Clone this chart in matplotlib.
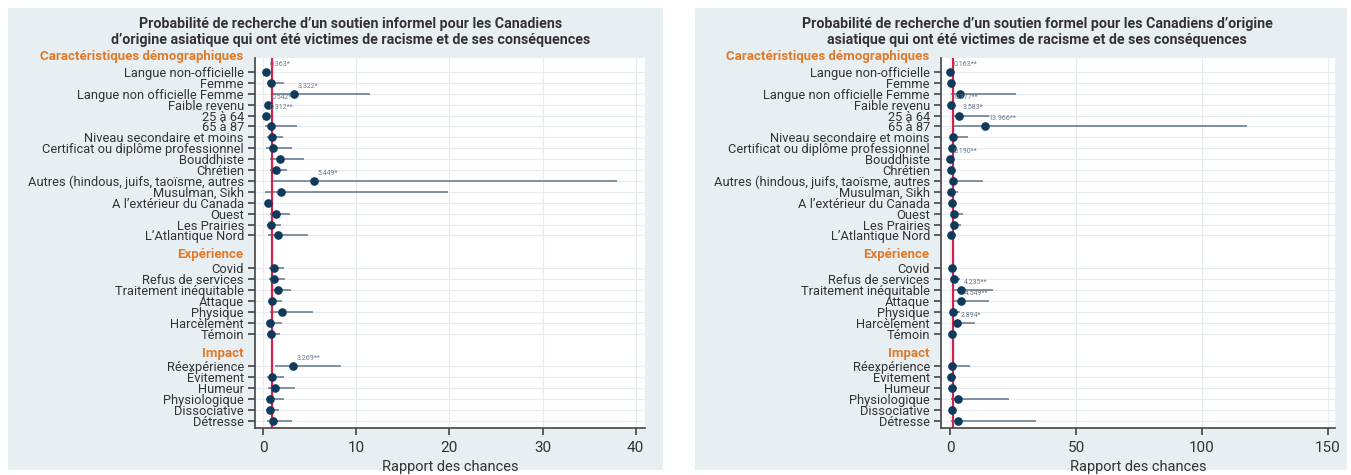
import matplotlib
matplotlib.use("Agg")
import matplotlib.pyplot as plt
from matplotlib.patches import Rectangle

plt.rcParams['font.family'] = ['Liberation Sans Narrow', 'Roboto', 'DejaVu Sans']

# ---- categories -------------------------------------------------------
demo_labels = ["Langue non-officielle", "Femme", "Langue non officielle Femme",
               "Faible revenu", "25 à 64", "65 à 87", "Niveau secondaire et moins",
               "Certificat ou diplôme professionnel", "Bouddhiste", "Chrétien",
               "Autres (hindous, juifs, taoïsme, autres", "Musulman, Sikh",
               "A l’extérieur du Canada", "Ouest", "Les Prairies", "L’Atlantique Nord"]
exp_labels = ["Covid", "Refus de services", "Traitement inéquitable", "Attaque",
              "Physique", "Harcèlement", "Témoin"]
impact_labels = ["Réexpérience", "Évitement", "Humeur", "Physiologique",
                 "Dissociative", "Détresse"]
group_titles = ["Caractéristiques démographiques", "Expérience", "Impact"]

# ---- informal support: odds ratio, 95% CI, significance ---------------
inf_or = [0.363, 0.9, 3.322, 0.542, 0.312, 0.85, 1.0, 1.05, 1.8, 1.4, 5.449, 1.95,
          0.55, 1.4, 0.85, 1.6,
          1.15, 1.2, 1.6, 1.0, 2.0, 0.75, 0.9,
          3.269, 0.95, 1.3, 0.8, 0.75, 1.1]
inf_lo = [0.17, 0.42, 1.02, 0.31, 0.15, 0.2, 0.45, 0.36, 0.72, 0.75, 1.03, 0.2,
          0.3, 0.7, 0.4, 0.5,
          0.6, 0.6, 0.85, 0.5, 0.75, 0.3, 0.45,
          1.3, 0.4, 0.5, 0.3, 0.35, 0.4]
inf_hi = [0.78, 2.3, 11.5, 0.95, 0.66, 3.7, 2.1, 3.1, 4.4, 2.6, 38.0, 19.9,
          1.05, 2.9, 1.9, 4.8,
          2.2, 2.35, 3.0, 2.0, 5.4, 2.0, 1.8,
          8.4, 2.3, 3.4, 2.3, 1.7, 3.1]
inf_sig = ["*", "", "*", "*", "**", "", "", "", "", "", "*", "",
           "", "", "", "",
           "", "", "", "", "", "", "",
           "**", "", "", "", "", ""]

# ---- formal support ---------------------------------------------------
for_or = [0.163, 0.55, 3.8, 0.377, 3.583, 13.966, 1.2, 0.8, 0.190, 0.5, 1.0, 0.35,
          0.9, 1.5, 1.6, 0.5,
          0.6, 1.4, 4.235, 4.549, 1.2, 2.894, 0.6,
          0.9, 0.5, 0.6, 3.0, 0.6, 3.3]
for_lo = [0.05, 0.25, 0.55, 0.2, 1.1, 1.7, 0.2, 0.3, 0.07, 0.2, 0.08, 0.04,
          0.3, 0.4, 0.6, 0.1,
          0.25, 0.5, 1.05, 1.35, 0.4, 1.05, 0.2,
          0.1, 0.1, 0.15, 0.4, 0.15, 0.3]
for_hi = [0.55, 1.2, 26.0, 0.7, 15.5, 118.0, 7.0, 2.0, 0.5, 1.3, 13.0, 3.0,
          2.5, 5.2, 4.2, 2.4,
          1.4, 3.8, 17.0, 15.5, 3.8, 10.0, 2.0,
          7.8, 2.2, 2.8, 23.5, 2.3, 34.0]
for_sig = ["**", "", "", "**", "*", "**", "", "", "**", "", "", "",
           "", "", "", "",
           "", "", "**", "**", "", "*", "",
           "", "", "", "", "", ""]

title_inf = ("Probabilité de recherche d’un soutien informel pour les Canadiens\n"
             "d’origine asiatique qui ont été victimes de racisme et de ses conséquences")
title_for = ("Probabilité de recherche d’un soutien formel pour les Canadiens d’origine\n"
             "asiatique qui ont été victimes de racisme et de ses conséquences")
xlabel = "Rapport des chances"

# ---- layout -----------------------------------------------------------
labels = demo_labels + exp_labels + impact_labels
ypos = (list(range(0, 16)) + list(range(18, 25)) + list(range(27, 33)))
header_y = [-1.4, 16.75, 25.8]

BG = "#e8eff2"
NAVY = "#0f3a5c"
CI_COL = "#6e7f8e"
RED = "#d3224c"
ORANGE = "#e07a2a"
TXT = "#333333"

fig = plt.figure(figsize=(13.51, 4.75), dpi=100)
W, H = 1351, 475
fig.patches.append(Rectangle((8 / W, 5 / H), 655 / W, 462 / H, transform=fig.transFigure,
                             facecolor=BG, edgecolor="none", zorder=-10))
fig.patches.append(Rectangle((695 / W, 5 / H), 652 / W, 462 / H, transform=fig.transFigure,
                             facecolor=BG, edgecolor="none", zorder=-10))


def panel(rect, vals, lo, hi, sig, xlim, xticks, title, title_x):
    ax = fig.add_axes(rect)
    ax.set_facecolor("white")
    ax.set_xlim(*xlim)
    ax.set_ylim(32.66, -1.28)
    ax.set_xticks(xticks)
    ax.set_xticklabels([str(t) for t in xticks], fontsize=11, color=TXT)
    ax.set_yticks(ypos)
    ax.set_yticklabels(labels, fontsize=9.3, color=TXT)
    ax.tick_params(axis="y", length=5, width=1.2, color="#444444", pad=3)
    ax.tick_params(axis="x", length=5, width=1.2, color="#444444", pad=4)
    for s in ["top", "right"]:
        ax.spines[s].set_visible(False)
    for s in ["left", "bottom"]:
        ax.spines[s].set_color("#444444")
        ax.spines[s].set_linewidth(1.2)
    ax.grid(True, color="#e6ecef", lw=0.8, zorder=0)
    ax.set_axisbelow(True)
    ax.set_xlabel(xlabel, fontsize=10.5, color=TXT, labelpad=4)

    ax.hlines(ypos, lo, hi, color=CI_COL, lw=1.2, zorder=2)
    ax.axvline(1, color=RED, lw=1.6, zorder=2.5)
    ax.plot(vals, ypos, "o", color=NAVY, ms=5.2, zorder=3, clip_on=False)
    for v, y, s in zip(vals, ypos, sig):
        if s:
            ax.annotate(f"{v:.3f}{s}", xy=(v, y), xytext=(2.5, 5.5),
                        textcoords="offset points", fontsize=5, color="#6a7886",
                        ha="left", va="center", zorder=4)
    for t, y in zip(group_titles, header_y):
        ax.annotate(t, xy=(0, y), xycoords=("axes fraction", "data"),
                    xytext=(-8.5, 0), textcoords="offset points", ha="right",
                    va="center", fontsize=9.5, fontweight="bold", color=ORANGE,
                    annotation_clip=False)
    fig.text(title_x, 1 - 32 / H, title, ha="center", va="center", fontsize=10.3,
             fontweight="bold", color=TXT, linespacing=1.15)
    return ax


panel([255 / W, 47 / H, 390 / W, 370 / H], inf_or, inf_lo, inf_hi, inf_sig,
      (-0.86, 41.0), [0, 10, 20, 30, 40], title_inf, 351 / W)
panel([941 / W, 47 / H, 394 / W, 370 / H], for_or, for_lo, for_hi, for_sig,
      (-3.57, 152.8), [0, 50, 100, 150], title_for, 1037 / W)

fig.savefig("out.png", dpi=100, facecolor="white")
